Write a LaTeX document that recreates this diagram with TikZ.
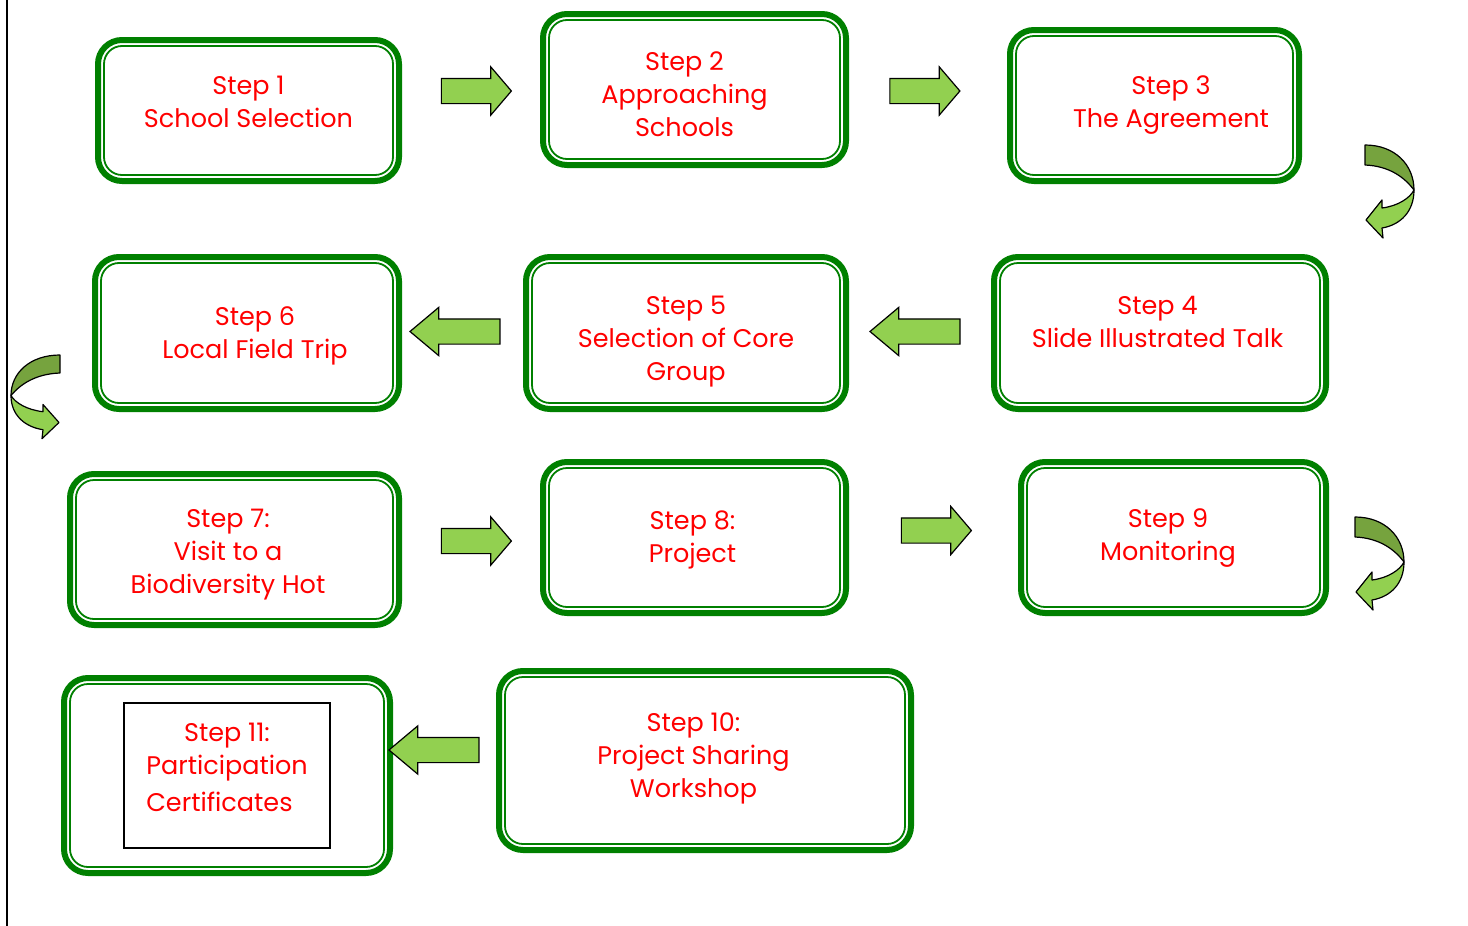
\documentclass[tikz,border=0pt]{standalone}
\usepackage{fontspec}
\setmainfont{Poppins}
\usetikzlibrary{shapes.arrows}
\definecolor{boxgreen}{RGB}{0,128,0}
\definecolor{arrowgreen}{RGB}{146,208,80}
\definecolor{foldgreen}{RGB}{118,163,62}
% block of centred lines inside a step box, moved by (#1/2, #2)
\newcommand{\steptext}[3]{\hspace*{#1}\raisebox{#2}[\height][\depth]{\begin{tabular}{@{}c@{}}#3\end{tabular}}}
\tikzset{
  stepbox/.style={draw=boxgreen, line width=6pt, rounded corners=24pt, fill=white,
    inner sep=0pt, outer sep=0pt, align=center, text=red, font=\fontsize{25.5}{33}\selectfont},
  innerline/.style={draw=boxgreen, line width=1.8pt, rounded corners=18pt},
  blockarrow/.style={single arrow, draw=black, fill=arrowgreen, line width=1.2pt,
    inner xsep=0pt, inner ysep=12pt, single arrow head extend=11.5pt},
  rightarrow/.style={blockarrow, minimum height=70pt, single arrow tip angle=99},
  leftarrow/.style={blockarrow, minimum height=90pt, single arrow tip angle=80,
    shape border rotate=180},
  turnarrow/.pic={
    \filldraw[fill=foldgreen, draw=black, line width=1.2pt, line join=round]
      (0,0) .. controls (30,0) and (49,20) .. (49,45)
      .. controls (40,33) and (25,21) .. (0,20) -- cycle;
    \filldraw[fill=arrowgreen, draw=black, line width=1.2pt, line join=round]
      (49,45) .. controls (49,67) and (35,80) .. (17,83)
      -- (18,93) -- (1,75) -- (17,55) -- (17,63)
      .. controls (33,61) and (45,53) .. (49,45) -- cycle;
  }
}
\begin{document}
\begin{tikzpicture}[x=1pt, y=-1pt]
  \useasboundingbox (0,0) rectangle (1468,926);
  \draw[line width=2pt] (7,0) -- (7,926);

  % steps
  \node[stepbox, minimum width=301pt, minimum height=141pt] (s1) at (248.5,110.5) {\steptext{0pt}{6.5pt}{Step 1\\School Selection}};
  \node[stepbox, minimum width=303pt, minimum height=151pt] (s2) at (694.5,89.5) {\steptext{-20pt}{-7pt}{Step 2\\Approaching\\Schools}};
  \node[stepbox, minimum width=289pt, minimum height=151pt] (s3) at (1154.5,105.5) {\steptext{33pt}{1pt}{Step 3\\The Agreement}};
  \node[stepbox, minimum width=332pt, minimum height=152pt] (s4) at (1160,333) {\steptext{-5pt}{8.5pt}{Step 4\\Slide Illustrated Talk}};
  \node[stepbox, minimum width=320pt, minimum height=152pt] (s5) at (686,333) {\steptext{0pt}{-8pt}{Step 5\\Selection of Core\\Group}};
  \node[stepbox, minimum width=304pt, minimum height=152pt] (s6) at (247,333) {\steptext{16pt}{-2.5pt}{Step 6\\Local Field Trip}};
  \node[stepbox, minimum width=329pt, minimum height=151pt] (s7) at (234.5,549.5) {\steptext{-13pt}{-4pt}{Step 7:\\Visit to a\\Biodiversity Hot}};
  \node[stepbox, minimum width=303pt, minimum height=151pt] (s8) at (694.5,537.5) {\steptext{-4pt}{-2pt}{Step 8:\\Project}};
  \node[stepbox, minimum width=305pt, minimum height=151pt] (s9) at (1173.5,537.5) {\steptext{-11pt}{0pt}{Step 9\\Monitoring}};
  \node[stepbox, minimum width=412pt, minimum height=179pt] (s10) at (705,760.5) {\steptext{-23pt}{3pt}{Step 10:\\Project Sharing\\Workshop}};
  \node[stepbox, minimum width=326pt, minimum height=195pt] (s11) at (227,775.5) {};
  \foreach \n in {1,...,11}
    \draw[innerline] ([xshift=6pt, yshift=-6pt]s\n.north west) rectangle ([xshift=-6pt, yshift=6pt]s\n.south east);
  \node[draw=black, line width=1.2pt, minimum width=206pt, minimum height=145pt, inner sep=0pt,
    text=red, font=\fontsize{25.5}{33}\selectfont] (s11box) at (227,775.5)
    {\raisebox{6pt}[\height][\depth]{\begin{tabular}{@{}l@{}}\multicolumn{1}{@{}c@{}}{Step 11:}\\Participation\\[4pt]Certificates\end{tabular}}};

  % arrows between steps
  \node[rightarrow] (a12) at (471,91) {};
  \node[rightarrow] (a23) at (919.5,91) {};
  \node[leftarrow] (a45) at (922.5,331.5) {};
  \node[leftarrow] (a56) at (462.5,331.5) {};
  \node[rightarrow] (a78) at (471,541) {};
  \node[rightarrow] (a89) at (931,530.5) {};
  \node[leftarrow] (a1011) at (441.5,750) {};

  % turns at row ends
  \pic at (1365,145) {turnarrow};
  \pic[xscale=-1, yscale=0.9] at (60,355) {turnarrow};
  \pic at (1355,517) {turnarrow};
\end{tikzpicture}
\end{document}
